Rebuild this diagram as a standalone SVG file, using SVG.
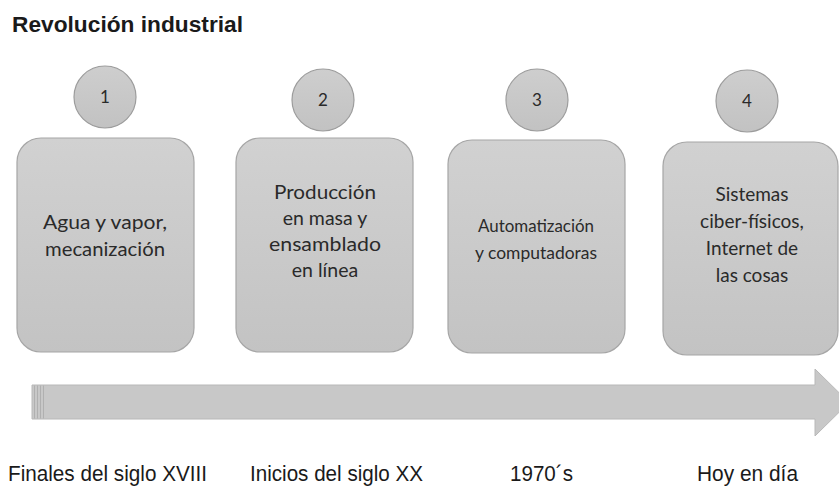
<svg xmlns="http://www.w3.org/2000/svg" width="839" height="486" viewBox="0 0 839 486">
<defs>
<linearGradient id="boxg" x1="0" y1="0" x2="0" y2="1">
<stop offset="0" stop-color="#d1d1d1"/>
<stop offset="1" stop-color="#c3c3c3"/>
</linearGradient>
<linearGradient id="circg" x1="0" y1="0" x2="0" y2="1">
<stop offset="0" stop-color="#cecece"/>
<stop offset="1" stop-color="#c2c2c2"/>
</linearGradient>
<style>
.box{fill:url(#boxg);stroke:#a6a6a6;stroke-width:1.2}
.circ{fill:url(#circg);stroke:#9c9c9c;stroke-width:1.2}
.bt{font-family:Lato,"Open Sans",sans-serif;fill:#2a2a2a;text-anchor:middle}
.num{font-family:Lato,"Open Sans",sans-serif;font-size:17px;fill:#2a2a2a;text-anchor:middle}
.lbl{font-family:"Liberation Sans",Arial,sans-serif;font-size:22px;fill:#1a1a1a}
.title{font-family:"Liberation Sans",Arial,sans-serif;font-size:22.5px;font-weight:bold;fill:#1a1a1a}
</style>
</defs>
<rect width="839" height="486" fill="#ffffff"/>
<text class="title" x="12" y="31.5" textLength="231" lengthAdjust="spacingAndGlyphs">Revolución industrial</text>

<g id="connectors">
<path d="M32,385 H815 V369 L849,402.5 L815,436 V419 H32 Z" fill="#c8c8c8" stroke="#b8b8b8" stroke-width="1"/>
<g stroke="#b0b0b0" stroke-width="1">
<line x1="34.5" y1="385.5" x2="34.5" y2="418.5"/>
<line x1="37.5" y1="385.5" x2="37.5" y2="418.5"/>
<line x1="40.5" y1="385.5" x2="40.5" y2="418.5"/>
<line x1="43.5" y1="385.5" x2="43.5" y2="418.5"/>
</g>
</g>

<g id="n1">
<circle class="circ" cx="105" cy="97" r="31"/>
<text class="num" x="105" y="103">1</text>
<rect class="box" x="17" y="138" width="177" height="214" rx="24"/>
<text class="bt" font-size="19.5" x="105" y="229" textLength="124" lengthAdjust="spacingAndGlyphs">Agua y vapor,</text>
<text class="bt" font-size="19.5" x="105" y="256" textLength="120" lengthAdjust="spacingAndGlyphs">mecanización</text>
</g>

<g id="n2">
<circle class="circ" cx="323" cy="100" r="31"/>
<text class="num" x="323" y="106">2</text>
<rect class="box" x="236" y="138" width="177" height="214" rx="24"/>
<text class="bt" font-size="19.5" x="325" y="199" textLength="102" lengthAdjust="spacingAndGlyphs">Producción</text>
<text class="bt" font-size="19.5" x="325" y="225">en masa y</text>
<text class="bt" font-size="19.5" x="325" y="251" textLength="112" lengthAdjust="spacingAndGlyphs">ensamblado</text>
<text class="bt" font-size="19.5" x="325" y="277">en línea</text>
</g>

<g id="n3">
<circle class="circ" cx="537" cy="100" r="31"/>
<text class="num" x="537" y="106">3</text>
<rect class="box" x="448" y="140" width="177" height="213" rx="24"/>
<text class="bt" font-size="16.3" x="536" y="232" textLength="116" lengthAdjust="spacingAndGlyphs">Automatización</text>
<text class="bt" font-size="16.3" x="536" y="259" textLength="122" lengthAdjust="spacingAndGlyphs">y computadoras</text>
</g>

<g id="n4">
<circle class="circ" cx="747" cy="101" r="31"/>
<text class="num" x="747" y="107">4</text>
<rect class="box" x="663" y="142" width="175" height="213" rx="24"/>
<text class="bt" font-size="19" x="752" y="201">Sistemas</text>
<text class="bt" font-size="19" x="752" y="228">ciber-físicos,</text>
<text class="bt" font-size="19" x="752" y="255">Internet de</text>
<text class="bt" font-size="19" x="752" y="282">las cosas</text>
</g>

<g id="labels">
<text class="lbl" x="8" y="481" textLength="199" lengthAdjust="spacingAndGlyphs">Finales del siglo XVIII</text>
<text class="lbl" x="250" y="481" textLength="173" lengthAdjust="spacingAndGlyphs">Inicios del siglo XX</text>
<text class="lbl" x="510" y="481" textLength="63" lengthAdjust="spacingAndGlyphs">1970´s</text>
<text class="lbl" x="697" y="481" textLength="101" lengthAdjust="spacingAndGlyphs">Hoy en día</text>
</g>
</svg>
